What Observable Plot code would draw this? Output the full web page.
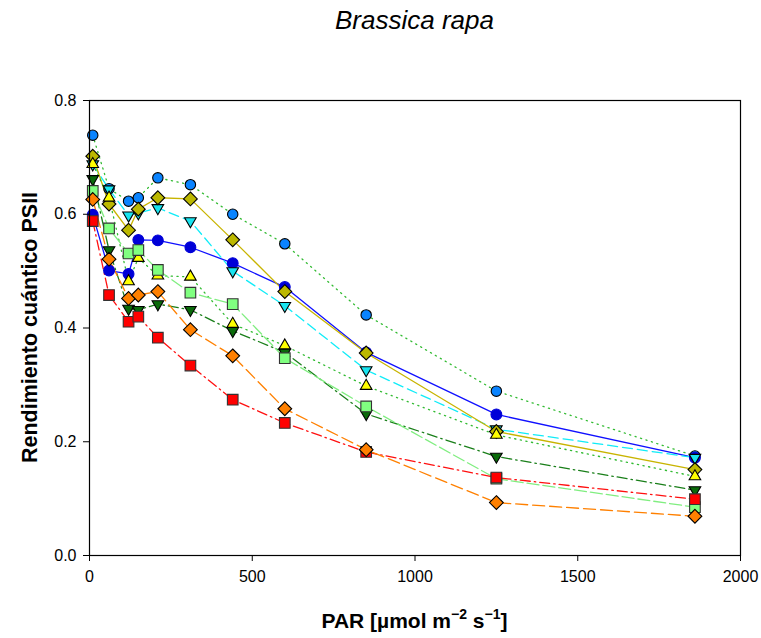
<!DOCTYPE html>
<html>
<head>
<meta charset="utf-8">
<script src="https://cdn.jsdelivr.net/npm/d3@7"></script>
<script src="https://cdn.jsdelivr.net/npm/@observablehq/plot@0.6"></script>
<style>
  body { margin: 0; background: #fff; }
  #chart { position: relative; width: 761px; height: 638px; }
</style>
</head>
<body>
<div id="chart"></div>
<script>
// ---- Data ----
const title = "Brassica rapa";
const yLabel = "Rendimiento cuántico PSII";
const xTicks = [0, 500, 1000, 1500, 2000];
const yTicks = [0, 0.2, 0.4, 0.6, 0.8];
const par = [10, 60, 120, 150, 210, 310, 440, 600, 850, 1250, 1860];

const lightBlueCircles = [0.739, 0.645, 0.623, 0.629, 0.664, 0.652, 0.600, 0.548, 0.423, 0.289, 0.175];
const blueCircles      = [0.599, 0.501, 0.495, 0.555, 0.554, 0.542, 0.514, 0.472, 0.357, 0.248, 0.172];
const cyanTriangles    = [0.688, 0.644, 0.598, 0.602, 0.611, 0.588, 0.500, 0.439, 0.326, 0.222, 0.172];
const oliveDiamonds    = [0.702, 0.618, 0.572, 0.609, 0.629, 0.627, 0.555, 0.464, 0.356, 0.218, 0.151];
const yellowTriangles  = [0.688, 0.629, 0.482, 0.523, 0.492, 0.490, 0.407, 0.369, 0.298, 0.212, 0.139];
const darkGreenTriangles = [0.662, 0.537, 0.434, 0.432, 0.442, 0.432, 0.395, 0.357, 0.249, 0.174, 0.115];
const lightGreenSquares = [0.641, 0.575, 0.531, 0.537, 0.502, 0.462, 0.442, 0.347, 0.262, 0.135, 0.085];
const redSquares       = [0.588, 0.458, 0.411, 0.420, 0.383, 0.334, 0.274, 0.233, 0.182, 0.137, 0.099];
const orangeDiamonds   = [0.626, 0.521, 0.452, 0.458, 0.464, 0.397, 0.351, 0.258, 0.186, 0.093, 0.069];

// ---- Styles (drawing order: bottom to top) ----
const series = [
  {values: lightBlueCircles,  symbol: "circle",   r: 5.2, rotate: 0,   fill: "#0a84ff", stroke: "#000",    line: "#33bb33", dash: "1.2,4.5"},
  {values: blueCircles,       symbol: "circle",   r: 5.4, rotate: 0,   fill: "#0000d8", stroke: "#0000d8", line: "#1010ff", dash: null},
  {values: cyanTriangles,     symbol: "triangle", r: 4.3, rotate: 180, fill: "#18e4f0", stroke: "#000",    line: "#10ecf8", dash: "10,5"},
  {values: oliveDiamonds,     symbol: "diamond2", r: 6.2, rotate: 0,   fill: "#bcb800", stroke: "#000",    line: "#c8b400", dash: null},
  {values: yellowTriangles,   symbol: "triangle", r: 4.3, rotate: 0,   fill: "#ffff00", stroke: "#000",    line: "#33bb33", dash: "1.2,4.5"},
  {values: darkGreenTriangles,symbol: "triangle", r: 4.3, rotate: 180, fill: "#0a6a0a", stroke: "#000",    line: "#1a7f1a", dash: "10,4,1.5,4"},
  {values: lightGreenSquares, symbol: "square",   r: 6.0, rotate: 0,   fill: "#80ff80", stroke: "#333",    line: "#80ee80", dash: "12,4"},
  {values: redSquares,        symbol: "square",   r: 6.0, rotate: 0,   fill: "#ff0000", stroke: "#333",    line: "#ff1010", dash: "10,4,1.5,4"},
  {values: orangeDiamonds,    symbol: "diamond2", r: 6.2, rotate: 0,   fill: "#ff8000", stroke: "#000",    line: "#ff8000", dash: "12,5"}
];

const rowsOf = s => par.map((p, i) => ({par: p, value: s.values[i]}));

const lineMarks = series.map(s => Plot.line(rowsOf(s), {
  x: "par", y: "value", stroke: s.line, strokeWidth: 1.3,
  strokeDasharray: s.dash ?? undefined
}));
const dotMarks = series.map(s => Plot.dot(rowsOf(s), {
  x: "par", y: "value", symbol: s.symbol, r: s.r, rotate: s.rotate,
  fill: s.fill, stroke: s.stroke, strokeWidth: 1.1
}));

const W = 761, H = 638;
const plot = Plot.plot({
  width: W, height: H,
  marginLeft: 89, marginRight: 21, marginTop: 100, marginBottom: 83,
  style: {fontFamily: "'Liberation Sans', Arial, sans-serif", fontSize: "16px", color: "black", background: "white"},
  x: {domain: [0, 2000]},
  y: {domain: [0, 0.8]},
  marks: [
    ...lineMarks,
    ...dotMarks,
    Plot.frame({stroke: "black", strokeWidth: 1.2}),
    Plot.axisX(xTicks, {tickSize: 6, tickPadding: 9, tickFormat: d => String(d), label: null, fontSize: 16}),
    Plot.axisY(yTicks, {tickSize: 6, tickPadding: 7, tickFormat: d3.format(".1f"), label: null, fontSize: 16})
  ]
});
document.getElementById("chart").appendChild(plot);

// ---- Titles and axis labels as real text ----
const svg = d3.select(plot);
const cx = (89 + (W - 21)) / 2;
svg.append("text")
  .attr("x", cx).attr("y", 29)
  .attr("text-anchor", "middle")
  .style("font-family", "'Liberation Sans', Arial, sans-serif")
  .style("font-size", "26px").style("font-style", "italic")
  .attr("fill", "black")
  .text(title);

svg.append("text")
  .attr("transform", `translate(37, ${(100 + 555) / 2}) rotate(-90)`)
  .attr("text-anchor", "middle")
  .style("font-family", "'Liberation Sans', Arial, sans-serif")
  .style("font-size", "21.5px").style("font-weight", "bold")
  .attr("fill", "black")
  .text(yLabel);

const xl = svg.append("text")
  .attr("x", cx).attr("y", 628)
  .attr("text-anchor", "middle")
  .style("font-family", "'Liberation Sans', Arial, sans-serif")
  .style("font-size", "21px").style("font-weight", "bold")
  .attr("fill", "black");
xl.append("tspan").text("PAR [µmol m");
xl.append("tspan").attr("dy", -9).style("font-size", "14px").text("−2");
xl.append("tspan").attr("dy", 9).text(" s");
xl.append("tspan").attr("dy", -9).style("font-size", "14px").text("−1");
xl.append("tspan").attr("dy", 9).text("]");
</script>
</body>
</html>
